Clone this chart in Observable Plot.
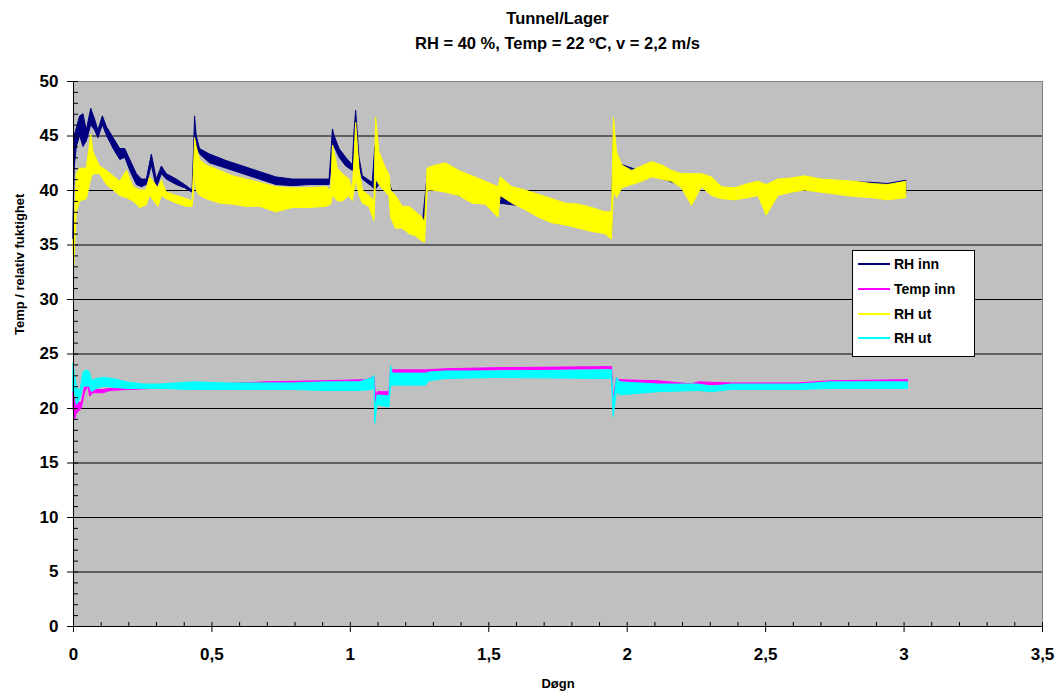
<!DOCTYPE html>
<html>
<head>
<meta charset="utf-8">
<script src="https://cdn.jsdelivr.net/npm/d3@7"></script>
<script src="https://cdn.jsdelivr.net/npm/@observablehq/plot@0.6"></script>
<style>
  html, body { margin: 0; padding: 0; background: #fff; }
  #wrap { position: relative; width: 1060px; height: 700px; font-family: "Liberation Sans", Arial, sans-serif; }
  #title { position: relative; height: 62px; box-sizing: border-box; padding-top: 6px; margin-left: 73px; width: 969px;
           text-align: center; font-weight: bold; font-size: 16.5px; line-height: 25px; color: #000; }
  #legend { position: absolute; left: 852px; top: 250px; width: 123px; height: 107px; box-sizing: border-box;
            background: #fff; border: 1px solid #000; padding-top: 1px; }
  .item { height: 24.7px; display: flex; align-items: center; font-weight: bold; font-size: 14px; color: #000; }
  .sw { width: 32px; height: 0; border-top: 2px solid; margin-left: 5px; margin-right: 4px; }
  svg { display: block; }
</style>
</head>
<body>
<div id="wrap">
  <div id="title">Tunnel/Lager<br>RH = 40 %, Temp = 22 ºC, v = 2,2 m/s</div>
  <div id="chart"></div>
  <div id="legend"></div>
</div>
<script>
// ---- series: names & colours ----
const seriesNames = ["RH inn", "Temp inn", "RH ut", "RH ut"];
const seriesColors = ["#000080", "#FF00FF", "#FFFF00", "#00FFFF"];

// ---- RH inn (band: low/high of the noisy trace) ----
const rhInnT = [0, 0.004, 0.012, 0.024, 0.036, 0.048, 0.064, 0.078, 0.09, 0.106, 0.121, 0.145, 0.169, 0.187, 0.205, 0.229, 0.247, 0.265, 0.283, 0.301, 0.319, 0.337, 0.373, 0.403, 0.43, 0.436, 0.439, 0.445, 0.457, 0.493, 0.553, 0.613, 0.673, 0.733, 0.793, 0.853, 0.925, 0.932, 0.937, 0.943, 0.961, 0.985, 1.009, 1.014, 1.021, 1.033, 1.045, 1.081, 1.09, 1.105, 1.141, 1.165, 1.213, 1.261, 1.279, 1.345, 1.441, 1.537, 1.633, 1.729, 1.825, 1.921, 1.945, 1.952, 1.963, 2.054, 2.09, 2.198, 2.27, 2.342, 2.438, 2.546, 2.642, 2.762, 2.882, 2.942, 3.008];
const rhInnLo = [35.5, 42, 44, 45, 44, 44.5, 46, 45.5, 44.8, 46, 45, 43.8, 42.8, 43, 41.8, 40.5, 40.3, 40.5, 42.3, 40.2, 41.5, 41, 40.5, 40.2, 39.8, 42, 45.5, 44, 43.3, 42.5, 42, 41.5, 41, 40.5, 40.4, 40.5, 40.5, 42, 44.5, 44, 43, 42.2, 41.8, 42, 46, 42, 41, 40.3, 40, 40.5, 39.8, 37, 36.5, 35.8, 40.2, 40, 39, 38.8, 38.5, 37.4, 36.8, 36.3, 36, 43, 40.5, 41, 41.4, 40.4, 40.5, 39.4, 39.5, 39.7, 40.2, 40, 39.6, 39.4, 39.6];
const rhInnHi = [36.5, 45, 45.7, 46.8, 47, 45.5, 47.5, 46.5, 45.5, 46.8, 45.8, 44.8, 43.8, 43.8, 42.8, 41.5, 41, 41, 43.3, 41, 42.2, 41.5, 41, 40.5, 40, 44, 46.8, 45, 43.8, 43.3, 42.7, 42.2, 41.7, 41.2, 41, 41, 41, 43.5, 45.6, 45, 43.8, 43, 42.3, 45, 47.3, 43, 41.3, 40.7, 44, 42, 40.8, 38.8, 37.8, 36.8, 41.3, 41.5, 40.5, 39.8, 39.4, 38.6, 38.2, 37.5, 37.5, 45.5, 42.5, 41.7, 42.1, 41, 41, 39.9, 40.2, 40.6, 40.9, 40.8, 40.7, 40.6, 40.9];

// ---- Temp inn ----
const tempInnT = [0, 0.006, 0.012, 0.03, 0.042, 0.054, 0.06, 0.072, 0.108, 0.133, 0.193, 0.3, 0.5, 0.7, 0.9, 1.057, 1.087, 1.093, 1.099, 1.141, 1.147, 1.153, 1.273, 1.345, 1.525, 1.945, 1.951, 1.963, 1.97, 2.113, 2.234, 2.258, 2.378, 2.618, 2.738, 3.014];
const tempInnLo = [20, 19, 19.5, 20, 21.5, 22, 21.1, 21.4, 21.4, 21.6, 21.7, 21.8, 21.9, 22.1, 22.2, 22.3, 22.5, 20.5, 21.2, 21.2, 22.5, 23.2, 23.2, 23.4, 23.5, 23.6, 20.2, 22.3, 22.3, 22.2, 22, 22.2, 22.1, 22.1, 22.3, 22.4];
const tempInnHi = [21.5, 20.5, 20.5, 20.5, 22, 22.5, 21.5, 21.7, 21.7, 21.8, 21.9, 22, 22.2, 22.4, 22.5, 22.6, 22.9, 21, 21.5, 21.5, 23.5, 23.5, 23.5, 23.6, 23.7, 23.8, 21, 22.8, 22.6, 22.5, 22.2, 22.4, 22.3, 22.3, 22.5, 22.6];

// ---- RH ut (yellow) ----
const rhUtT = [0, 0.003, 0.008, 0.012, 0.024, 0.048, 0.064, 0.072, 0.096, 0.121, 0.145, 0.169, 0.193, 0.217, 0.241, 0.263, 0.277, 0.307, 0.319, 0.337, 0.373, 0.409, 0.43, 0.436, 0.439, 0.445, 0.457, 0.481, 0.529, 0.577, 0.625, 0.673, 0.733, 0.793, 0.853, 0.913, 0.931, 0.937, 0.955, 0.973, 0.997, 1.009, 1.015, 1.021, 1.033, 1.045, 1.069, 1.087, 1.093, 1.105, 1.129, 1.141, 1.147, 1.165, 1.189, 1.213, 1.237, 1.261, 1.27, 1.279, 1.297, 1.345, 1.393, 1.441, 1.489, 1.535, 1.543, 1.585, 1.633, 1.681, 1.729, 1.777, 1.825, 1.873, 1.921, 1.945, 1.952, 1.963, 1.982, 2.018, 2.054, 2.09, 2.126, 2.162, 2.198, 2.234, 2.27, 2.306, 2.342, 2.39, 2.438, 2.474, 2.504, 2.546, 2.594, 2.642, 2.702, 2.762, 2.822, 2.882, 2.942, 3.008];
const rhUtLo = [34.5, 33.1, 36, 38, 39, 39.2, 41, 41.5, 41.5, 40.5, 40, 39.5, 39.3, 39, 38.4, 38.6, 39.5, 38.5, 39.5, 39.2, 38.8, 38.5, 38.5, 40, 42, 40, 39.5, 39.2, 38.8, 38.7, 38.5, 38.5, 38, 38.4, 38.4, 38.5, 38.7, 39.5, 39, 39, 39.5, 39, 40, 41, 39.5, 38.8, 38.5, 37.2, 41, 40.5, 39.8, 39.5, 37.5, 36.5, 36.5, 36, 35.8, 35.3, 35.2, 40, 40, 39.8, 39.5, 38.8, 38.7, 37.5, 39.5, 38.8, 38.2, 37.5, 37, 36.8, 36.5, 36.2, 36, 35.5, 40, 39.3, 40.2, 40.5, 40.8, 41.2, 41, 40.8, 40.2, 38.6, 40.3, 39.5, 39.2, 39.1, 39.3, 39.5, 37.7, 39.5, 39.8, 40, 39.8, 39.6, 39.4, 39.3, 39.1, 39.3];
const rhUtHi = [35.5, 34, 39, 41.5, 42, 42, 45.1, 43.5, 42.2, 41.8, 41.3, 40.8, 41.8, 40.3, 40, 40, 41.2, 40.2, 40.9, 39.8, 39.5, 39.2, 39, 42.5, 44.8, 44, 42.8, 42.3, 41.8, 41.3, 41, 40.7, 40.3, 40.2, 40.2, 40.3, 40, 44.1, 42, 41.5, 41, 40, 43, 46.2, 42, 40, 39.5, 39, 46.7, 43.5, 42, 41.5, 40, 39.5, 38.5, 38.5, 38, 37.5, 37, 42, 42.2, 42.5, 41.8, 41.3, 40.8, 40.3, 41.2, 40.3, 40, 39.6, 39.2, 38.8, 38.7, 38.4, 38, 38, 46.7, 43.5, 42.3, 41.8, 42.2, 42.6, 42.3, 41.8, 41.5, 41.5, 41.5, 41.2, 40.3, 40.2, 40.6, 40.8, 40.5, 41, 41.1, 41.3, 41, 40.9, 40.8, 40.6, 40.5, 40.8];

// ---- RH ut (cyan) ----
const rhUt2T = [0, 0.006, 0.012, 0.024, 0.036, 0.048, 0.06, 0.067, 0.084, 0.108, 0.145, 0.193, 0.253, 0.313, 0.433, 0.553, 0.673, 0.793, 0.913, 1.033, 1.081, 1.087, 1.09, 1.098, 1.141, 1.147, 1.153, 1.273, 1.285, 1.345, 1.525, 1.945, 1.951, 1.963, 1.975, 2.113, 2.258, 2.306, 2.378, 2.618, 2.738, 3.014];
const rhUt2Lo = [21.5, 21.5, 20.3, 20.8, 22, 22, 22, 21.5, 21.8, 22, 21.9, 21.8, 21.8, 21.8, 21.7, 21.7, 21.7, 21.7, 21.6, 21.6, 21.7, 22, 18.6, 20.3, 20.1, 22, 22.1, 22.1, 22.5, 22.7, 22.8, 22.7, 19.2, 21.5, 21.2, 21.5, 21.6, 21.5, 21.7, 21.7, 21.8, 21.8];
const rhUt2Hi = [24.1, 23, 22, 21.5, 23.3, 23.5, 23.3, 22.5, 22.7, 22.8, 22.7, 22.4, 22.2, 22.2, 22.4, 22.3, 22.3, 22.3, 22.4, 22.4, 22.8, 23, 20, 21.2, 21.1, 23.9, 23.2, 23.2, 23.3, 23.4, 23.4, 23.5, 20.5, 22.8, 22.4, 22.2, 22.2, 22, 22.2, 22.2, 22.4, 22.4];

// ---- ticks ----
const yTicks = [0, 5, 10, 15, 20, 25, 30, 35, 40, 45, 50];
const gridY = [5, 10, 15, 20, 25, 30, 35, 40, 45];
const xTicks = [0, 0.5, 1, 1.5, 2, 2.5, 3, 3.5];
const yMinor = d3.range(0, 51, 1);
const xMinor = d3.range(0, 36, 1).map(d => d / 10);

const toRows = (t, lo, hi) => t.map((x, i) => ({t: x, lo: lo[i], hi: hi[i]}));
const bands = [
  toRows(rhInnT, rhInnLo, rhInnHi),
  toRows(tempInnT, tempInnLo, tempInnHi),
  toRows(rhUtT, rhUtLo, rhUtHi),
  toRows(rhUt2T, rhUt2Lo, rhUt2Hi)
];

const fmt = d => String(d).replace(".", ",");
const font = "'Liberation Sans', Arial, sans-serif";

const chart = Plot.plot({
  width: 1060,
  height: 638,
  marginTop: 19,
  marginBottom: 74,
  marginLeft: 73,
  marginRight: 18,
  style: {fontFamily: font, background: "transparent", color: "#000"},
  x: {domain: [0, 3.5], label: null},
  y: {domain: [0, 50], label: null},
  marks: [
    Plot.frame({fill: "#C0C0C0", stroke: "#808080"}),
    Plot.ruleY(gridY, {stroke: "#000", strokeWidth: 1}),
    ...bands.map((b, i) => Plot.areaY(b, {x: "t", y1: "lo", y2: "hi", fill: seriesColors[i], stroke: seriesColors[i], strokeWidth: 1})),
    Plot.ruleX([0], {stroke: "#000"}),
    Plot.ruleY([0], {stroke: "#000"}),
    Plot.axisY(yMinor, {anchor: "left", tickSize: -5, tickFormat: () => "", label: null, stroke: "#000"}),
    Plot.axisY(yTicks, {anchor: "left", tickSize: 6, tickPadding: 9, fontSize: 17, fontWeight: "bold", label: null, stroke: "#000", fill: "#000"}),
    Plot.axisX(xMinor, {anchor: "bottom", tickSize: -4, tickFormat: () => "", label: null, stroke: "#000"}),
    Plot.axisX(xTicks, {anchor: "bottom", tickSize: 6, tickPadding: 15, tickFormat: fmt, fontSize: 17, fontWeight: "bold", label: null, stroke: "#000", fill: "#000"}),
    Plot.text(["Døgn"], {text: d => d, frameAnchor: "bottom", dy: 61, fontSize: 13, fontWeight: "bold", fill: "#000"}),
    Plot.text(["Temp / relativ fuktighet"], {text: d => d, frameAnchor: "left", dx: -54, dy: -19, rotate: -90, fontSize: 13, fontWeight: "bold", fill: "#000"})
  ]
});
document.getElementById("chart").appendChild(chart);

// ---- legend ----
const legend = document.getElementById("legend");
seriesNames.forEach((name, i) => {
  const row = document.createElement("div");
  row.className = "item";
  const sw = document.createElement("span");
  sw.className = "sw";
  sw.style.borderTopColor = seriesColors[i];
  const label = document.createElement("span");
  label.textContent = name;
  row.appendChild(sw);
  row.appendChild(label);
  legend.appendChild(row);
});
</script>
</body>
</html>
